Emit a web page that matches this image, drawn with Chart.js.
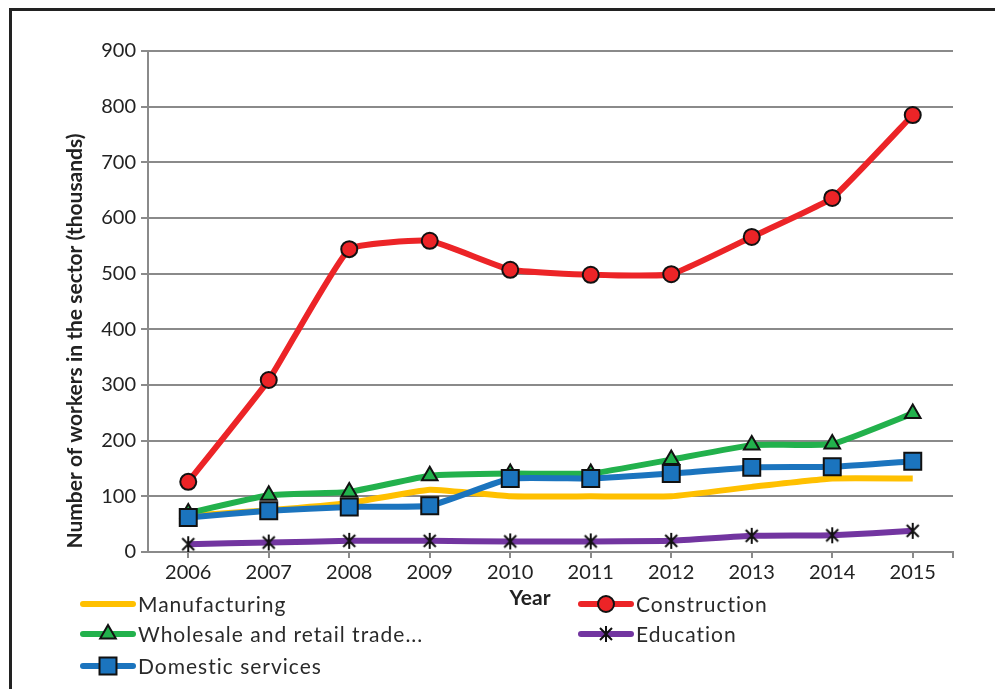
<!DOCTYPE html>
<html><head><meta charset="utf-8">
<script src="https://cdn.jsdelivr.net/npm/chart.js@4/dist/chart.umd.min.js"></script>
<style>html,body{margin:0;padding:0;background:#fff;}#wrap{position:relative;width:995px;height:689px;}</style>
</head><body><div id="wrap"><canvas id="c" width="995" height="689"></canvas></div>
<script>
const years = [2006, 2007, 2008, 2009, 2010, 2011, 2012, 2013, 2014, 2015];
const yTicks = [0, 100, 200, 300, 400, 500, 600, 700, 800, 900];
const manufacturing = [65, 75, 88, 112, 100, 100, 100, 117, 132, 132];
const construction = [126, 309, 544, 559, 507, 498, 499, 566, 636, 785];
const wholesale = [70, 102, 108, 137, 141, 141, 166, 192, 194, 249];
const education = [14, 17, 20, 20, 19, 19, 20, 29, 30, 38];
const domestic = [62, 74, 81, 83, 132, 132, 141, 152, 153, 163];
const seriesNames = ['Manufacturing', 'Construction', 'Wholesale and retail trade...', 'Education', 'Domestic services'];
const xTitle = 'Year';
const yTitle = 'Number of workers in the sector (thousands)';

const FONT = 'Lato, "Open Sans", sans-serif';

// star-like marker (X with vertical bar)
const starImg = document.createElement('canvas');
starImg.width = 18; starImg.height = 18;
(function () {
  const g = starImg.getContext('2d');
  g.strokeStyle = '#111'; g.lineWidth = 2; g.lineCap = 'butt';
  g.beginPath();
  g.moveTo(3, 3); g.lineTo(15, 15);
  g.moveTo(15, 3); g.lineTo(3, 15);
  g.moveTo(9, 1); g.lineTo(9, 17);
  g.stroke();
})();

const pts = arr => arr.map((v, i) => ({ x: years[i], y: v }));

function ds(label, data, color, style, radius) {
  return {
    label, data: pts(data), borderColor: color, backgroundColor: color,
    borderWidth: 6, tension: 0.12,
    pointStyle: style || false, pointRadius: style ? radius : 0,
    pointBackgroundColor: color, pointBorderColor: '#111', pointBorderWidth: 2,
    pointHoverRadius: radius
  };
}

const styles = {
  'Manufacturing': { color: '#FFC000', style: null, r: 0 },
  'Construction': { color: '#EC2427', style: 'circle', r: 8 },
  'Wholesale and retail trade...': { color: '#22B14C', style: 'triangle', r: 9 },
  'Education': { color: '#7235A0', style: starImg, r: 9 },
  'Domestic services': { color: '#1B74BE', style: 'rect', r: 12 }
};
const seriesData = [manufacturing, construction, wholesale, education, domestic];

// first dataset drawn on top -> reverse order
const datasets = seriesNames.map((n, i) => ds(n, seriesData[i], styles[n].color, styles[n].style, styles[n].r)).reverse();

function drawMarker(ctx, st, x, y) {
  if (!st.style) return;
  ctx.save();
  ctx.fillStyle = st.color; ctx.strokeStyle = '#111'; ctx.lineWidth = 2;
  const r = st.r;
  if (st.style === 'circle') {
    ctx.beginPath(); ctx.arc(x, y, r, 0, Math.PI * 2); ctx.fill(); ctx.stroke();
  } else if (st.style === 'triangle') {
    ctx.beginPath();
    ctx.moveTo(x, y - r);
    ctx.lineTo(x + r * Math.sin(Math.PI * 2 / 3), y - r * Math.cos(Math.PI * 2 / 3));
    ctx.lineTo(x - r * Math.sin(Math.PI * 2 / 3), y - r * Math.cos(Math.PI * 2 / 3));
    ctx.closePath(); ctx.fill(); ctx.stroke();
  } else if (st.style === 'rect') {
    const s = Math.SQRT1_2 * r;
    ctx.beginPath(); ctx.rect(x - s, y - s, 2 * s, 2 * s); ctx.fill(); ctx.stroke();
  } else {
    ctx.drawImage(st.style, x - st.style.width / 2, y - st.style.height / 2);
  }
  ctx.restore();
}

const decor = {
  id: 'decor',
  afterDraw(chart) {
    const ctx = chart.ctx;
    ctx.save();
    // frame
    ctx.strokeStyle = '#222'; ctx.lineWidth = 3;
    ctx.beginPath(); ctx.moveTo(10.5, 700); ctx.lineTo(10.5, 9.5); ctx.lineTo(1000, 9.5); ctx.stroke();
    // axis titles
    ctx.fillStyle = '#222';
    ctx.font = 'bold 21px ' + FONT;
    ctx.textAlign = 'center'; ctx.textBaseline = 'middle';
    ctx.fillText(xTitle, 530, 598);
    ctx.save();
    ctx.translate(75, 341); ctx.rotate(-Math.PI / 2);
    ctx.font = 'bold 21px ' + FONT;
    ctx.fillText(yTitle, 0, 0);
    ctx.restore();
    // legend
    const pos = [[80, 604], [578, 604], [80, 634], [578, 634], [80, 666]];
    ctx.font = '21px ' + FONT;
    try { ctx.letterSpacing = '1px'; } catch (e) {}
    ctx.textAlign = 'left';
    seriesNames.forEach((n, i) => {
      const [x, y] = pos[i];
      const st = styles[n];
      ctx.strokeStyle = st.color; ctx.lineWidth = 6; ctx.lineCap = 'round';
      ctx.beginPath(); ctx.moveTo(x + 3, y); ctx.lineTo(x + 53, y); ctx.stroke();
      drawMarker(ctx, st, x + 28, y);
      ctx.fillStyle = '#2a2a2a';
      ctx.fillText(n, x + 58, y + 1);
    });
    ctx.restore();
  }
};

new Chart(document.getElementById('c'), {
  type: 'line',
  data: { datasets },
  options: {
    responsive: false, animation: false, devicePixelRatio: 1,
    layout: { padding: { left: 0, right: 42, top: 51, bottom: 80 } },
    plugins: { legend: { display: false }, tooltip: { enabled: false } },
    scales: {
      x: {
        type: 'linear', min: 2005.5, max: 2015.5,
        afterBuildTicks: s => { s.ticks = years.map(v => ({ value: v })).concat([{ value: 2015.5 }]); },
        afterFit: s => { s.height = 57; },
        ticks: {
          autoSkip: false, maxRotation: 0, padding: 3,
          color: '#222', font: { family: FONT, size: 20 },
          callback: v => years.includes(v) ? String(v) : ''
        },
        grid: { drawOnChartArea: false, drawTicks: true, tickLength: 6, color: '#8a8a8a', lineWidth: 2 },
        border: { display: true, color: '#8a8a8a', width: 2 }
      },
      y: {
        min: 0, max: 900,
        afterBuildTicks: s => { s.ticks = yTicks.map(v => ({ value: v })); },
        afterFit: s => { s.width = 148; },
        ticks: { padding: 5, color: '#222', font: { family: FONT, size: 20 } },
        grid: { color: '#8a8a8a', lineWidth: 2, tickLength: 7 },
        border: { display: true, color: '#8a8a8a', width: 2 }
      }
    }
  },
  plugins: [decor]
});
</script></body></html>
